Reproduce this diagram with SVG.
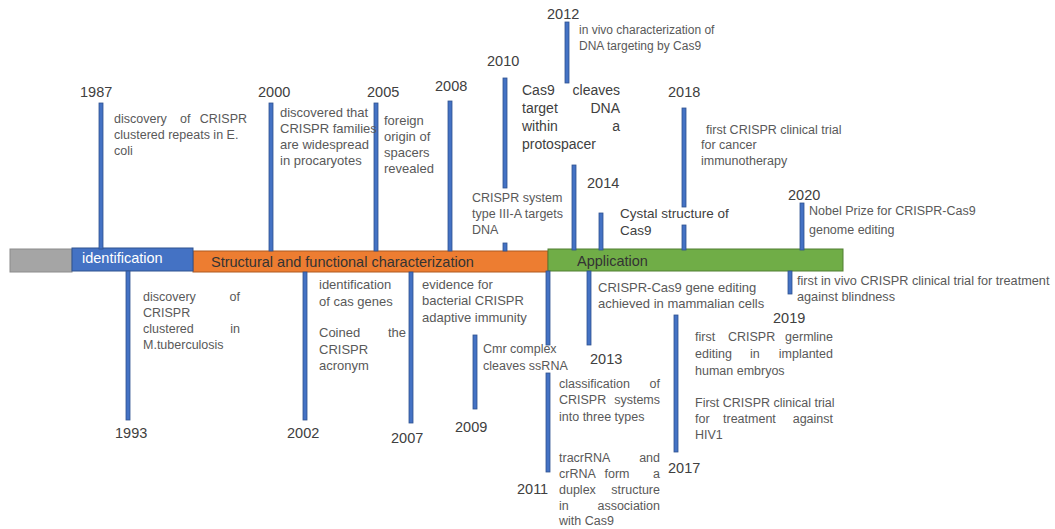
<svg xmlns="http://www.w3.org/2000/svg" width="1055" height="529" viewBox="0 0 1055 529">
<style>
text{font-family:"Liberation Sans","Noto Sans",Arial,sans-serif}
.yr{font-size:14.5px;fill:#404040}
.d{font-size:12.5px;fill:#595959}
.d13{font-size:13px;fill:#595959}
.big{font-size:14px;fill:#404040}
.tick{fill:#4472c4;stroke:#2f528f;stroke-width:0.8}
.lab{font-size:14.5px;fill:#333}
</style>
<rect width="1055" height="529" fill="#fff"/>
<g id="bar">
<rect x="10" y="249" width="62" height="23" fill="#a5a5a5" stroke="#8c8c8c" stroke-width="1"/>
<rect x="193" y="251" width="355" height="21" fill="#ed7d31" stroke="#ae5a21" stroke-width="1"/>
<rect x="548" y="249" width="295" height="22" fill="#70ad47" stroke="#507e32" stroke-width="1"/>
<rect x="72" y="248" width="121" height="23" fill="#4472c4" stroke="#2f528f" stroke-width="1"/>
<text x="82" y="263" class="lab" style="fill:#fff">identification</text>
<text x="211" y="267" class="lab">Structural and functional characterization</text>
<text x="577" y="266" class="lab">Application</text>
</g>
<g id="connectors">
<rect class="tick" x="99" y="103" width="4" height="146"/>
<rect class="tick" x="269" y="103" width="4" height="148"/>
<rect class="tick" x="374" y="103" width="4" height="148"/>
<rect class="tick" x="448" y="101" width="4" height="150"/>
<rect class="tick" x="503" y="78" width="4" height="110"/>
<rect class="tick" x="503" y="243" width="4" height="8"/>
<rect class="tick" x="565" y="22" width="4" height="61"/>
<rect class="tick" x="572" y="165" width="4" height="85"/>
<rect class="tick" x="599" y="213" width="4" height="37"/>
<rect class="tick" x="682" y="108" width="4" height="99"/>
<rect class="tick" x="682" y="225" width="4" height="25"/>
<rect class="tick" x="800" y="203" width="4" height="47"/>
<rect class="tick" x="126" y="271" width="4" height="149"/>
<rect class="tick" x="303" y="272" width="4" height="148"/>
<rect class="tick" x="409" y="272" width="4" height="151"/>
<rect class="tick" x="473" y="335" width="4" height="74"/>
<rect class="tick" x="546" y="271" width="4" height="74"/>
<rect class="tick" x="546" y="373" width="4" height="99"/>
<rect class="tick" x="587" y="271" width="4" height="74"/>
<rect class="tick" x="674" y="315" width="4" height="137"/>
<rect class="tick" x="788" y="271" width="4" height="23"/>
</g>
<g id="n1987">
<text class="yr" x="80" y="97">1987</text>
<text class="d" y="123"><tspan x="114">discovery</tspan><tspan x="180">of</tspan><tspan x="247" text-anchor="end">CRISPR</tspan></text>
<text class="d" x="114" y="139">clustered repeats in E.</text>
<text class="d" x="114" y="155">coli</text>
</g>
<g id="n1993">
<text class="yr" x="115" y="438">1993</text>
<text class="d" y="301"><tspan x="143">discovery</tspan><tspan x="240" text-anchor="end">of</tspan></text>
<text class="d" x="143" y="317">CRISPR</text>
<text class="d" y="333"><tspan x="143">clustered</tspan><tspan x="240" text-anchor="end">in</tspan></text>
<text class="d" x="143" y="349">M.tuberculosis</text>
</g>
<g id="n2000">
<text class="yr" x="258" y="97">2000</text>
<text class="d13" x="280" y="117">discovered that</text>
<text class="d13" x="280" y="133">CRISPR families</text>
<text class="d13" x="280" y="149">are widespread</text>
<text class="d13" x="280" y="165">in procaryotes</text>
</g>
<g id="n2002">
<text class="yr" x="287" y="438">2002</text>
<text class="d13" x="319" y="289">identification</text>
<text class="d13" x="319" y="306">of cas genes</text>
<text class="d13" y="337"><tspan x="319">Coined</tspan><tspan x="406" text-anchor="end">the</tspan></text>
<text class="d13" x="319" y="354">CRISPR</text>
<text class="d13" x="319" y="370">acronym</text>
</g>
<g id="n2005">
<text class="yr" x="367" y="97">2005</text>
<text class="d13" x="384" y="125">foreign</text>
<text class="d13" x="384" y="141">origin of</text>
<text class="d13" x="384" y="157">spacers</text>
<text class="d13" x="384" y="173">revealed</text>
</g>
<g id="n2007">
<text class="yr" x="391" y="443">2007</text>
<text class="d13" x="422" y="289">evidence for</text>
<text class="d13" x="422" y="305">bacterial CRISPR</text>
<text class="d13" x="422" y="322">adaptive immunity</text>
</g>
<g id="n2008">
<text class="yr" x="435" y="91">2008</text>
</g>
<g id="n2009">
<text class="yr" x="455" y="432">2009</text>
<text class="d" x="483" y="353">Cmr complex</text>
<text class="d" x="483" y="370">cleaves ssRNA</text>
</g>
<g id="n2010">
<text class="yr" x="487" y="66">2010</text>
<text class="d" x="472" y="202">CRISPR system</text>
<text class="d" x="472" y="218">type III-A targets</text>
<text class="d" x="472" y="234">DNA</text>
</g>
<g id="n2011">
<text class="yr" x="517" y="494">2011</text>
<text class="d" y="388"><tspan x="559">classification</tspan><tspan x="660" text-anchor="end">of</tspan></text>
<text class="d" y="404"><tspan x="559">CRISPR</tspan><tspan x="660" text-anchor="end">systems</tspan></text>
<text class="d" x="559" y="421">into three types</text>
<text class="d" y="462"><tspan x="559">tracrRNA</tspan><tspan x="660" text-anchor="end">and</tspan></text>
<text class="d" y="478"><tspan x="559">crRNA</tspan><tspan x="617" text-anchor="middle">form</tspan><tspan x="660" text-anchor="end">a</tspan></text>
<text class="d" y="494"><tspan x="559">duplex</tspan><tspan x="660" text-anchor="end">structure</tspan></text>
<text class="d" y="510"><tspan x="559">in</tspan><tspan x="660" text-anchor="end">association</tspan></text>
<text class="d" x="559" y="525">with Cas9</text>
</g>
<g id="n2012">
<text class="yr" x="547" y="19">2012</text>
<text class="d" x="579" y="34" style="font-size:12px">in vivo characterization of</text>
<text class="d" x="579" y="50" style="font-size:12px">DNA targeting by Cas9</text>
<text class="big" y="95"><tspan x="522">Cas9</tspan><tspan x="620" text-anchor="end">cleaves</tspan></text>
<text class="big" y="113"><tspan x="522">target</tspan><tspan x="620" text-anchor="end">DNA</tspan></text>
<text class="big" y="131"><tspan x="522">within</tspan><tspan x="620" text-anchor="end">a</tspan></text>
<text class="big" x="522" y="149">protospacer</text>
</g>
<g id="n2013">
<text class="yr" x="590" y="364">2013</text>
<text class="d13" x="598" y="292">CRISPR-Cas9 gene editing</text>
<text class="d13" x="598" y="308">achieved in mammalian cells</text>
</g>
<g id="n2014">
<text class="yr" x="587" y="188">2014</text>
<text class="big" x="620" y="218" style="font-size:13.5px">Cystal structure of</text>
<text class="big" x="620" y="235" style="font-size:13.5px">Cas9</text>
</g>
<g id="n2017">
<text class="yr" x="668" y="473">2017</text>
</g>
<g id="n2018">
<text class="yr" x="668" y="97">2018</text>
<text class="d" x="706" y="134">first CRISPR clinical trial</text>
<text class="d" x="701" y="149">for cancer</text>
<text class="d" x="701" y="165">immunotherapy</text>
</g>
<g id="n2019">
<text class="yr" x="773" y="323">2019</text>
<text class="d" y="341"><tspan x="695">first</tspan><tspan x="728">CRISPR</tspan><tspan x="833" text-anchor="end">germline</tspan></text>
<text class="d" y="358"><tspan x="695">editing</tspan><tspan x="750">in</tspan><tspan x="833" text-anchor="end">implanted</tspan></text>
<text class="d" x="695" y="375">human embryos</text>
<text class="d" x="695" y="407">First CRISPR clinical trial</text>
<text class="d" y="423"><tspan x="695">for</tspan><tspan x="723">treatment</tspan><tspan x="833" text-anchor="end">against</tspan></text>
<text class="d" x="695" y="439">HIV1</text>
<text class="d" x="797" y="285" style="font-size:12.7px">first in vivo CRISPR clinical trial for treatment</text>
<text class="d" x="797" y="301" style="font-size:12.7px">against blindness</text>
</g>
<g id="n2020">
<text class="yr" x="788" y="200">2020</text>
<text class="d" x="809" y="215">Nobel Prize for CRISPR-Cas9</text>
<text class="d" x="809" y="234">genome editing</text>
</g>
</svg>
